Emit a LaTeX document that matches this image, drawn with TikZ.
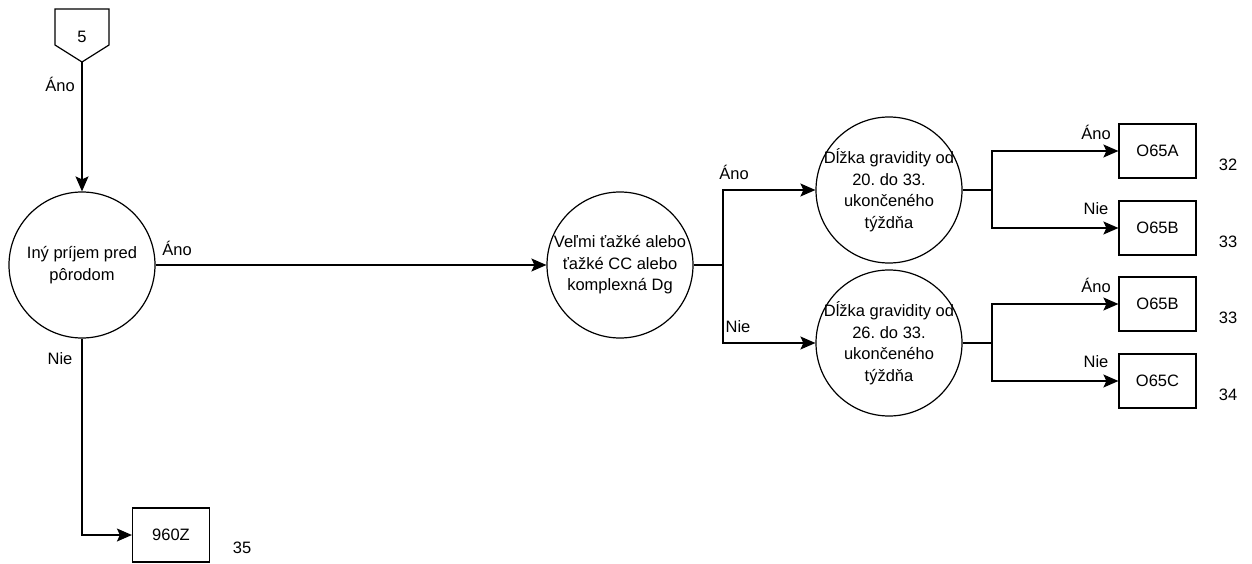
\documentclass[tikz,border=0pt]{standalone}
\usepackage{fontspec}
\setmainfont{Liberation Sans}
\usetikzlibrary{arrows.meta}
\frenchspacing
\begin{document}
\begin{tikzpicture}[x=1pt,y=-1pt,line width=1.2pt,
every node/.style={font=\fontsize{16.5}{21.5}\selectfont},
krok/.style={draw,circle,minimum size=146pt,inner sep=-30pt,align=center},
kod/.style={draw,minimum width=77pt,minimum height=54pt,inner sep=0pt},
sipka/.style={-{Stealth[length=15pt,width=13pt,inset=3pt]}},
popis/.style={inner sep=0pt}]
\useasboundingbox (0,0) rectangle (1252,564);
% odkaz na krok 5
\draw (55,9)--(109,9)--(109,45)--(82,62)--(55,45)--cycle;
\node (k5) at (82,37) {5};
\coordinate (k5b) at (82,62);
% rozhodovacie kroky
\node[krok] (c1) at (82,265) {Iný príjem pred\\pôrodom};
\node[krok] (c2) at (620,265) {Veľmi ťažké alebo\\ťažké CC alebo\\komplexná Dg};
\node[krok] (c3) at (889,190) {Dĺžka gravidity od\\20. do 33.\\ukončeného\\týždňa};
\node[krok] (c4) at (889,343) {Dĺžka gravidity od\\26. do 33.\\ukončeného\\týždňa};
% vysledne kody
\node[kod] (z) at (171,535) {960Z};
\node[popis] (n35) at (242,548) {35};
\foreach \y/\k/\c/\n/\p in {151/a/O65A/32/Áno,228/b/O65B/33/Nie,304/c/O65B/33/Áno,381/d/O65C/34/Nie}{
\node[kod] (\k) at (1157.5,\y) {\c};
\node[popis] (n\k) at (1228,\y+14) {\n};
\node[popis] (p\k) at (1096,\y-19) {\p};}
% spojnice
\coordinate (j1) at (723,265);
\coordinate (j2) at (992,190);
\coordinate (j3) at (992,343);
\draw[sipka] (k5b) -- (c1.north);
\draw[sipka] (c1.east) -- (c2.west);
\draw[sipka] (c1.south) |- (z.west);
\draw (c2.east) -- (j1);
\draw[sipka] (j1) |- (c3.west);
\draw[sipka] (j1) |- (c4.west);
\draw (c3.east) -- (j2);
\draw[sipka] (j2) |- (a.west);
\draw[sipka] (j2) |- (b.west);
\draw (c4.east) -- (j3);
\draw[sipka] (j3) |- (c.west);
\draw[sipka] (j3) |- (d.west);
% popisy vetiev
\node[popis] (l1) at (60,84) {Áno};
\node[popis] (l2) at (177,248) {Áno};
\node[popis] (l3) at (60,359) {Nie};
\node[popis] (l4) at (734,172) {Áno};
\node[popis] (l5) at (738,327) {Nie};
\end{tikzpicture}
\end{document}
